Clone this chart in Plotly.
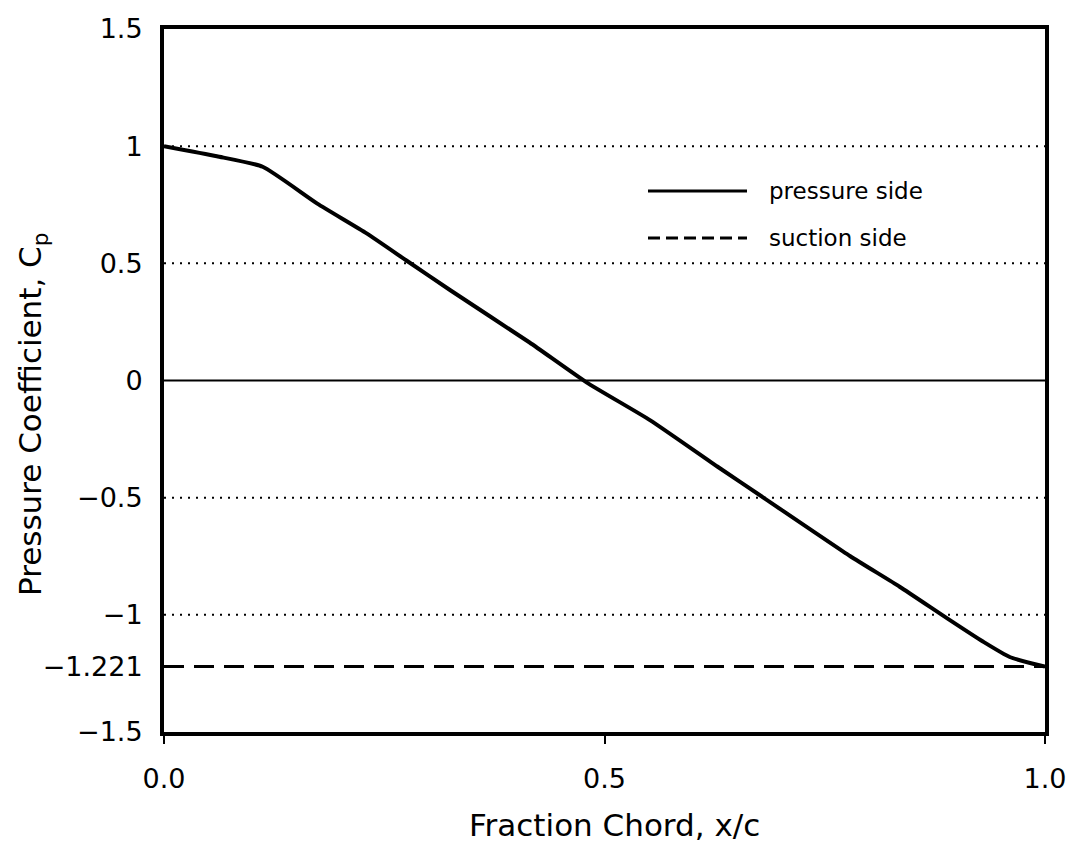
import plotly.graph_objects as go

# ---- data ----
x_pressure = [0.0, 0.060, 0.112, 0.174, 0.230, 0.276, 0.325, 0.415, 0.480,
              0.552, 0.628, 0.682, 0.779, 0.835, 0.889, 0.930, 0.960, 1.0]
cp_pressure = [1.0, 0.957, 0.912, 0.755, 0.628, 0.510, 0.385, 0.162, -0.009,
               -0.170, -0.367, -0.504, -0.750, -0.880, -1.015, -1.115, -1.180, -1.221]

x_suction = [0.0, 1.0]
cp_suction = [-1.221, -1.221]

grid_dotted = [1.0, 0.5, -0.5, -1.0]
grid_solid = [0.0]

y_tickvals = [1.5, 1.0, 0.5, 0.0, -0.5, -1.0, -1.221, -1.5]
y_ticktext = ["1.5", "1", "0.5", "0", "\u22120.5", "\u22121", "\u22121.221", "\u22121.5"]
x_tickvals = [0.0, 0.5, 1.0]
x_ticktext = ["0.0", "0.5", "1.0"]

series_names = ["pressure side", "suction side"]

W, H = 1080, 854
ML, MR, MT, MB = 164, 35, 29, 122
PW, PH = W - ML - MR, H - MT - MB


def px_to_paper(px, py):
    return (px - ML) / PW, (H - MB - py) / PH


fig = go.Figure()

for g in grid_dotted:
    fig.add_hline(y=g, line=dict(color="black", width=2, dash="2px,6px"), layer="below")
for g in grid_solid:
    fig.add_hline(y=g, line=dict(color="black", width=2), layer="below")

fig.add_trace(go.Scatter(x=x_pressure, y=cp_pressure, mode="lines",
                         name=series_names[0],
                         line=dict(color="black", width=4, shape="spline", smoothing=0.5),
                         showlegend=False))
fig.add_trace(go.Scatter(x=x_suction, y=cp_suction, mode="lines",
                         name=series_names[1],
                         line=dict(color="black", width=3, dash="20px,10px"),
                         showlegend=False))

# legend drawn by hand to get long line samples
leg_rows = [(191, "solid", 3), (238, "12px,6px", 3)]
for (py, dash, w), name in zip(leg_rows, series_names):
    x0, y0 = px_to_paper(648, py)
    x1, _ = px_to_paper(747, py)
    fig.add_shape(type="line", xref="paper", yref="paper", x0=x0, x1=x1, y0=y0, y1=y0,
                  line=dict(color="black", width=w, dash=dash))
    tx, _ = px_to_paper(767, py)
    fig.add_annotation(xref="paper", yref="paper", x=tx, y=y0, text=name,
                       showarrow=False, xanchor="left", yanchor="middle",
                       font=dict(family="DejaVu Sans", size=23, color="black"))

# axis titles
ax, ay = px_to_paper(32, 414)
fig.add_annotation(xref="paper", yref="paper", x=ax, y=ay,
                   text="Pressure Coefficient, C<sub>p</sub>", textangle=-90,
                   showarrow=False, xanchor="center", yanchor="middle",
                   font=dict(family="DejaVu Sans", size=31, color="black"))
bx, by = px_to_paper(614, 825)
fig.add_annotation(xref="paper", yref="paper", x=bx, y=by,
                   text="Fraction Chord, x/c",
                   showarrow=False, xanchor="center", yanchor="middle",
                   font=dict(family="DejaVu Sans", size=31, color="black"))

tick_font = dict(family="DejaVu Sans", size=27, color="black")

fig.update_layout(
    width=W, height=H,
    margin=dict(l=ML, r=MR, t=MT, b=MB, pad=0),
    paper_bgcolor="white", plot_bgcolor="white",
    showlegend=False,
    font=dict(family="DejaVu Sans", size=27, color="black"),
)
fig.update_xaxes(range=[0, 1], tickvals=x_tickvals, ticktext=x_ticktext,
                 tickfont=tick_font,
                 showline=True, linewidth=4, linecolor="black", mirror=True,
                 showgrid=False, zeroline=False, ticks="outside", ticklen=8,
                 tickwidth=2, tickcolor="black", ticklabelstandoff=12)
fig.update_yaxes(range=[-1.5, 1.5], tickvals=y_tickvals, ticktext=y_ticktext,
                 tickfont=tick_font,
                 showline=True, linewidth=4, linecolor="black", mirror=True,
                 showgrid=False, zeroline=False, ticks="", ticklabelstandoff=12)

fig.write_html("out.html")
